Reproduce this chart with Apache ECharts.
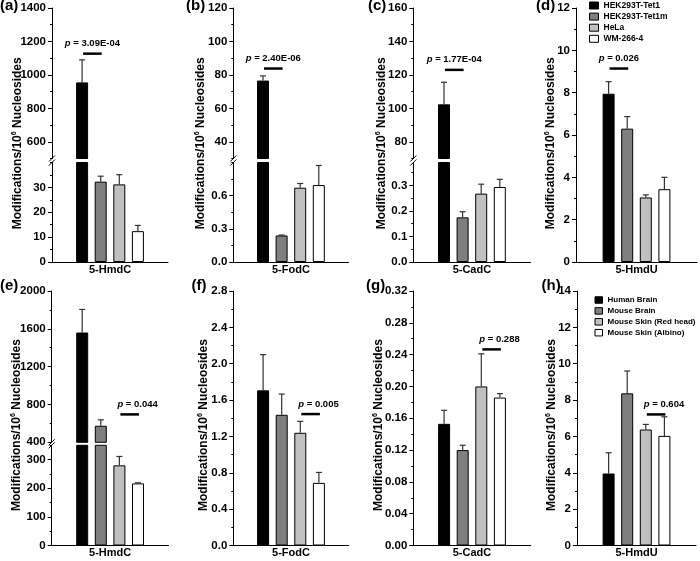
<!DOCTYPE html>
<html><head><meta charset="utf-8">
<script src="https://cdn.jsdelivr.net/npm/echarts@6/dist/echarts.min.js"></script>
<style>html,body{margin:0;padding:0;background:#fff}#c{width:700px;height:561px}</style>
</head><body><div id="c"></div>
<script>
// ---------------- data ----------------
const topGroups = ['HEK293T-Tet1', 'HEK293T-Tet1m', 'HeLa', 'WM-266-4'];
const bottomGroups = ['Human Brain', 'Mouse Brain', 'Mouse Skin (Red head)', 'Mouse Skin (Albino)'];
const categories = ['5-HmdC', '5-FodC', '5-CadC', '5-HmdU', '5-HmdC', '5-FodC', '5-CadC', '5-HmdU'];

// mean values and SD (error bar = mean + SD)
const meanA = [955, 32.3, 31.2, 12.4];      const sdA = [135, 2.2, 3.9, 2.3];
const meanB = [76.6, 0.24, 0.672, 0.696];   const sdB = [2.8, 0.004, 0.038, 0.177];
const meanC = [102.4, 0.175, 0.268, 0.294]; const sdC = [13.2, 0.022, 0.037, 0.030];
const meanD = [7.95, 6.3, 3.05, 3.44];      const sdD = [0.57, 0.57, 0.12, 0.56];
const meanE = [1561, 575, 280, 217];        const sdE = [244, 63, 31, 2];
const meanF = [1.707, 1.438, 1.24, 0.689];  const sdF = [0.393, 0.228, 0.126, 0.115];
const meanG = [0.153, 0.120, 0.200, 0.186]; const sdG = [0.017, 0.006, 0.041, 0.005];
const meanH = [3.96, 8.37, 6.38, 6.03];     const sdH = [1.14, 1.23, 0.28, 1.05];

const pTexts  = ['3.09E-04', '2.40E-06', '1.77E-04', '0.026', '0.044', '0.005', '0.288', '0.604'];
const pLevels = [1127, 83.8, 123, 9.14, 695, 1.446, 0.2466, 7.21];

// tick labels
const ticksAUpper = ['600', '800', '1000', '1200', '1400'];
const ticksALower = ['0', '10', '20', '30'];
const ticksBUpper = ['40', '60', '80', '100', '120'];
const ticksBLower = ['0.0', '0.3', '0.6'];
const ticksCUpper = ['80', '100', '120', '140', '160'];
const ticksCLower = ['0.0', '0.1', '0.2', '0.3'];
const ticksD = ['0', '2', '4', '6', '8', '10', '12'];
const ticksEUpper = ['400', '800', '1200', '1600', '2000'];
const ticksELower = ['0', '100', '200', '300'];
const ticksF = ['0.0', '0.4', '0.8', '1.2', '1.6', '2.0', '2.4', '2.8'];
const ticksG = ['0.00', '0.04', '0.08', '0.12', '0.16', '0.20', '0.24', '0.28', '0.32'];
const ticksH = ['0', '2', '4', '6', '8', '10', '12', '14'];

// ---------------- layout / style ----------------
const FONT = '"Liberation Sans", Arial, Helvetica, sans-serif';
const COLORS = ['#000000', '#7f7f7f', '#c0c0c0', '#ffffff'];
const BAR_W = 12, BAR_GAP = 0.55, STEP = BAR_W * (1 + BAR_GAP);
const TICK_FS = 11.5;

const panels = [
  {label: '(a)', lx: 0, cat: categories[0], groups: topGroups, mean: meanA, sd: sdA, p: pTexts[0], pLevel: pLevels[0], pair: [0, 1], row: 0,
   x0: 52, x1: 168, nameX: 17.2,
   segs: [{top: 8, bottom: 158.5, min: 500, max: 1400, ticks: ticksAUpper}, {top: 162.5, bottom: 262, min: 0, max: 40, ticks: ticksALower}]},
  {label: '(b)', lx: 186, cat: categories[1], groups: topGroups, mean: meanB, sd: sdB, p: pTexts[1], pLevel: pLevels[1], pair: [0, 1], row: 0,
   x0: 233.3, x1: 348.5, nameX: 201,
   segs: [{top: 8, bottom: 158.5, min: 30, max: 120, ticks: ticksBUpper}, {top: 162.5, bottom: 262, min: 0, max: 0.9, ticks: ticksBLower}]},
  {label: '(c)', lx: 368, cat: categories[2], groups: topGroups, mean: meanC, sd: sdC, p: pTexts[2], pLevel: pLevels[2], pair: [0, 1], row: 0,
   x0: 413.3, x1: 530.5, nameX: 382,
   segs: [{top: 8, bottom: 158.5, min: 70, max: 160, ticks: ticksCUpper}, {top: 162.5, bottom: 262, min: 0, max: 0.39, ticks: ticksCLower}]},
  {label: '(d)', lx: 536, cat: categories[3], groups: topGroups, mean: meanD, sd: sdD, p: pTexts[3], pLevel: pLevels[3], pair: [0, 1], row: 0,
   x0: 576, x1: 697, nameX: 551,
   segs: [{top: 8, bottom: 262, min: 0, max: 12, ticks: ticksD}]},
  {label: '(e)', lx: 0, cat: categories[4], groups: bottomGroups, mean: meanE, sd: sdE, p: pTexts[4], pLevel: pLevels[4], pair: [2, 3], row: 1,
   x0: 51.7, x1: 168.5, nameX: 16.7,
   segs: [{top: 291, bottom: 442.3, min: 400, max: 2000, ticks: ticksEUpper}, {top: 445.3, bottom: 545.5, min: 0, max: 350, ticks: ticksELower}]},
  {label: '(f)', lx: 191.5, cat: categories[5], groups: bottomGroups, mean: meanF, sd: sdF, p: pTexts[5], pLevel: pLevels[5], pair: [2, 3], row: 1,
   x0: 233.3, x1: 348.7, nameX: 204,
   segs: [{top: 291, bottom: 545.5, min: 0, max: 2.8, ticks: ticksF}]},
  {label: '(g)', lx: 366, cat: categories[6], groups: bottomGroups, mean: meanG, sd: sdG, p: pTexts[6], pLevel: pLevels[6], pair: [2, 3], row: 1,
   x0: 413.3, x1: 530.7, nameX: 378.5,
   segs: [{top: 291, bottom: 545.5, min: 0, max: 0.32, ticks: ticksG}]},
  {label: '(h)', lx: 541.5, cat: categories[7], groups: bottomGroups, mean: meanH, sd: sdH, p: pTexts[7], pLevel: pLevels[7], pair: [2, 3], row: 1,
   x0: 577, x1: 696, nameX: 552,
   segs: [{top: 291, bottom: 545.5, min: 0, max: 14, ticks: ticksH}]}
];

function minorTicks(majors, min, max) {
  const half = (majors[1] - majors[0]) / 2;
  const out = [];
  const eps = half * 1e-6;
  for (let v = majors[0]; v >= min - eps; v -= half) out.push(v);
  for (let v = majors[0] + half; v <= max + eps; v += half) out.push(v);
  return out.filter(v => !majors.some(m => Math.abs(m - v) < eps)).map(v => Math.round(v * 1e9) / 1e9);
}

function errRender(params, api) {
  const cat = api.value(0), i = api.value(3);
  const p0 = api.coord([cat, api.value(1)]);
  const p1 = api.coord([cat, api.value(2)]);
  const x = p0[0] + (i - 1.5) * STEP;
  const st = {stroke: '#333', lineWidth: 1.2};
  return {type: 'group', children: [
    {type: 'line', shape: {x1: x, y1: p0[1], x2: x, y2: p1[1]}, style: st},
    {type: 'line', shape: {x1: x - 3, y1: p1[1], x2: x + 3, y2: p1[1]}, style: st}
  ]};
}

function makePRender(P) {
  return function (params, api) {
    const c = api.coord([api.value(0), api.value(1)]);
    const xa = c[0] + (api.value(2) - 1.5) * STEP + 1;
    const xb = c[0] + (api.value(3) - 1.5) * STEP + 1;
    const y = c[1];
    const tStyle = {fontWeight: 'bold', fontSize: 9.5, fontFamily: FONT, fill: '#000'};
    return {type: 'group', children: [
      {type: 'line', shape: {x1: xa, y1: y, x2: xb, y2: y}, style: {stroke: '#000', lineWidth: 2.5}},
      {type: 'text', style: {
        text: '{i|p}{n| = ' + P.p + '}',
        x: P.row === 0 ? (xa + xb) / 2 : xa - 3, y: y - 10,
        align: P.row === 0 ? 'center' : 'left', verticalAlign: 'middle',
        fontWeight: 'bold', fontSize: 9.5, fontFamily: FONT, fill: '#000',
        rich: {i: Object.assign({fontStyle: 'italic'}, tStyle), n: tStyle}
      }}
    ]};
  };
}

const grid = [], xAxis = [], yAxis = [], series = [], graphic = [];
const axisTextStyle = {color: '#000', fontFamily: FONT, fontWeight: 'bold', fontSize: TICK_FS};

panels.forEach(P => {
  P.segs.forEach((S, si) => {
    const g = grid.length;
    const lowest = si === P.segs.length - 1;
    grid.push({left: P.x0, top: S.top, width: P.x1 - P.x0, height: S.bottom - S.top, containLabel: false, outerBoundsMode: 'none'});
    xAxis.push({gridIndex: g, type: 'category', data: [P.cat], show: lowest,
      axisLine: {show: true, lineStyle: {color: '#000', width: 1}}, axisTick: {show: false},
      axisLabel: {show: true, margin: 2, fontSize: 11, color: '#000', fontFamily: FONT, fontWeight: 'bold'},
      splitLine: {show: false}});
    const majors = S.ticks.map(Number);
    const minors = minorTicks(majors, S.min, S.max);
    const fmt = v => { const k = majors.findIndex(m => Math.abs(m - v) < 1e-9); return k >= 0 ? S.ticks[k] : ''; };
    yAxis.push({gridIndex: g, type: 'value', position: 'left', min: S.min, max: S.max,
      axisLine: {show: true, onZero: false, lineStyle: {color: '#000', width: 1}},
      axisTick: {show: true, length: 4, customValues: majors, lineStyle: {color: '#000', width: 1}},
      axisLabel: Object.assign({show: true, customValues: majors, formatter: fmt, margin: 6}, axisTextStyle),
      splitLine: {show: false}});
    yAxis.push({gridIndex: g, type: 'value', position: 'left', min: S.min, max: S.max,
      axisLine: {show: false}, axisLabel: {show: false}, splitLine: {show: false},
      axisTick: {show: true, length: 2, customValues: minors, lineStyle: {color: '#000', width: 1}}});
    const yi = yAxis.length - 2;
    P.mean.forEach((m, i) => {
      const inSeg = lowest ? true : m > S.min;
      series.push({type: 'bar', name: P.groups[i], xAxisIndex: g, yAxisIndex: yi, data: [inSeg ? m : '-'],
        barWidth: BAR_W, barGap: (BAR_GAP * 100) + '%', silent: true, clip: true,
        itemStyle: {color: COLORS[i], borderColor: '#000', borderWidth: 1}});
    });
    const errData = P.mean.map((m, i) => [0, m, m + P.sd[i], i]).filter(d => d[1] >= S.min && d[1] <= S.max);
    series.push({type: 'custom', xAxisIndex: g, yAxisIndex: yi, data: errData, encode: {x: 0, y: [1, 2]},
      renderItem: errRender, silent: true, z: 3, clip: false});
    if (P.pLevel >= S.min && P.pLevel <= S.max) {
      series.push({type: 'custom', xAxisIndex: g, yAxisIndex: yi, data: [[0, P.pLevel, P.pair[0], P.pair[1]]],
        encode: {x: 0, y: 1}, renderItem: makePRender(P), silent: true, z: 4, clip: false});
    }
  });
  // axis-break marks
  if (P.segs.length === 2) {
    [P.segs[0].bottom, P.segs[1].top].forEach(y => {
      graphic.push({type: 'line', silent: true, shape: {x1: P.x0 - 3, y1: y + 3, x2: P.x0 + 3, y2: y - 3}, style: {stroke: '#000', lineWidth: 1}});
    });
  }
  // y-axis title
  graphic.push({type: 'text', silent: true, x: P.nameX, y: P.row === 0 ? 143.3 : 425, rotation: Math.PI / 2,
    style: {text: '{a|Modifications/10}{s|6}{a| Nucleosides}', align: 'center', verticalAlign: 'middle', fill: '#000',
      fontFamily: FONT, fontWeight: 'bold', fontSize: 12,
      rich: {a: {fontFamily: FONT, fontWeight: 'bold', fontSize: 12, fill: '#000', lineHeight: 14},
             s: {fontFamily: FONT, fontWeight: 'bold', fontSize: 7, fill: '#000', verticalAlign: 'top', lineHeight: 14}}}});
  // panel label
  graphic.push({type: 'text', silent: true, x: P.lx, y: P.row === 0 ? 6 : 286,
    style: {text: P.label, align: 'left', verticalAlign: 'middle', fill: '#000', fontFamily: FONT, fontWeight: 'bold', fontSize: 15}});
});

function legendData(names) {
  return names.map((n, i) => ({name: n, icon: 'rect', itemStyle: {color: COLORS[i], borderColor: '#000', borderWidth: 1}}));
}

const option = {
  animation: false,
  backgroundColor: '#fff',
  grid, xAxis, yAxis, series, graphic,
  legend: [
    {data: legendData(topGroups), orient: 'vertical', left: 589, top: 1, padding: 0, itemWidth: 9, itemHeight: 7, itemGap: 2.1,
     selectedMode: false, textStyle: {fontSize: 8.5, fontWeight: 'bold', fontFamily: FONT, color: '#000', lineHeight: 7}},
    {data: legendData(bottomGroups), orient: 'vertical', left: 594.5, top: 296, padding: 0, itemWidth: 7.5, itemHeight: 6.5, itemGap: 2.9,
     selectedMode: false, textStyle: {fontSize: 8, fontWeight: 'bold', fontFamily: FONT, color: '#000', lineHeight: 7}}
  ]
};

const chart = echarts.init(document.getElementById('c'), null, {renderer: 'canvas'});
chart.setOption(option);
</script>
</body></html>
